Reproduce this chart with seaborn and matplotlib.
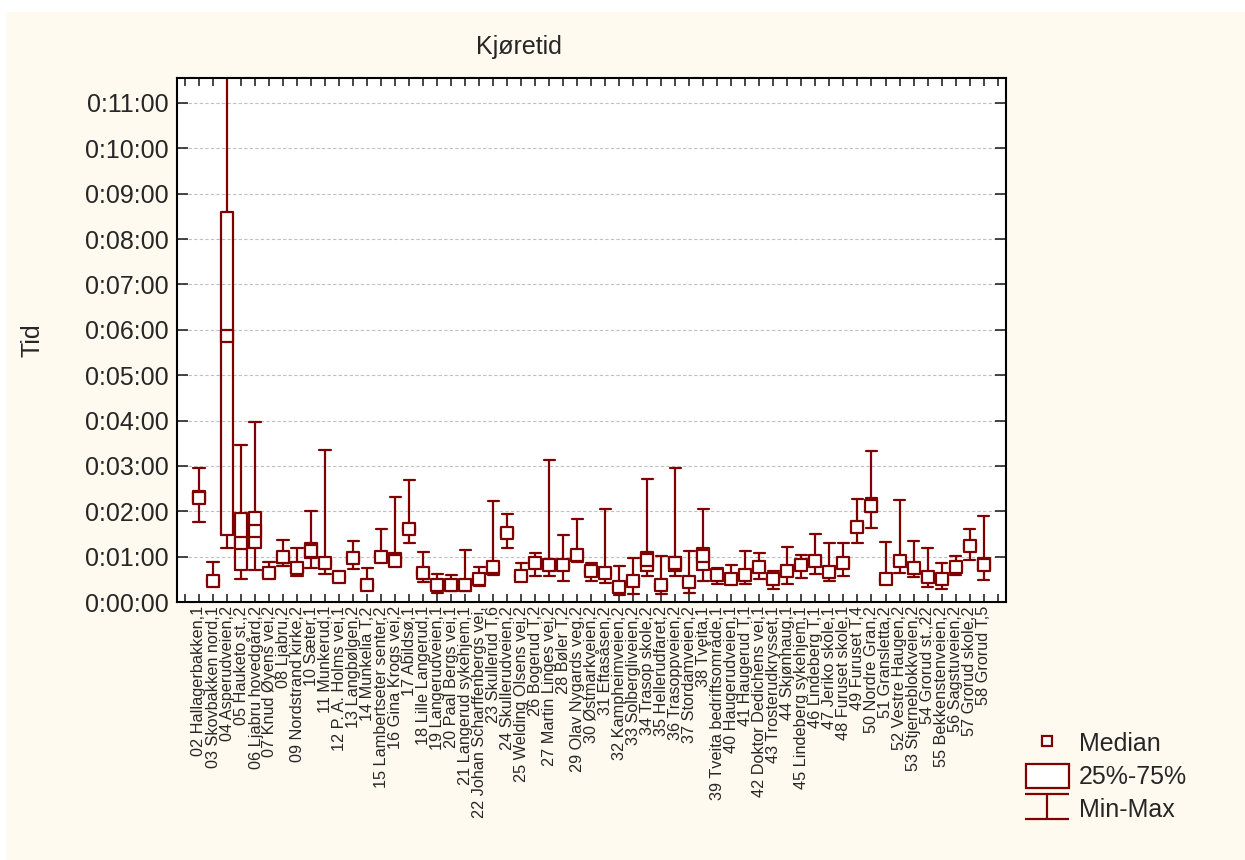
import numpy as np
import pandas as pd
import seaborn as sns
import matplotlib.pyplot as plt
from matplotlib.lines import Line2D
from matplotlib.patches import Patch, Rectangle
from matplotlib.ticker import FuncFormatter, MultipleLocator

# Stops (categories) and box statistics, in minutes
stops = [
    "02 Hallagerbakken,1", "03 Skovbakken nord,1", "04 Asperudveien,2", "05 Hauketo st.,2",
    "06 Ljabru hovedgård,2", "07 Knud Øyens vei,2", "08 Ljabru,2", "09 Nordstrand kirke,2",
    "10 Sæter,1", "11 Munkerud,1", "12 P. A. Holms vei,1", "13 Langbølgen,2",
    "14 Munkelia T,2", "15 Lambertseter senter,2", "16 Gina Krogs vei,2", "17 Abildsø,1",
    "18 Lille Langerud,1", "19 Langerudveien,1", "20 Paal Bergs vei,1", "21 Langerud sykehjem,1",
    "22 Johan Scharffenbergs vei,", "23 Skullerud T,6", "24 Skullerudveien,2", "25 Welding Olsens vei,2",
    "26 Bogerud T,2", "27 Martin Linges vei,2", "28 Bøler T,2", "29 Olav Nygards veg,2",
    "30 Østmarkveien,2", "31 Eftasåsen,2", "32 Kampheimveien,2", "33 Solbergliveien,2",
    "34 Trasop skole,2", "35 Hellerudfaret,2", "36 Trasoppveien,2", "37 Stordamveien,2",
    "38 Tveita,1", "39 Tveita bedriftsområde,1", "40 Haugerudveien,1", "41 Haugerud T,1",
    "42 Doktor Dedichens vei,1", "43 Trosterudkrysset,1", "44 Skjønhaug,1", "45 Lindeberg sykehjem,1",
    "46 Lindeberg T,1", "47 Jeriko skole,1", "48 Furuset skole,1", "49 Furuset T,4",
    "50 Nordre Gran,2", "51 Gransletta,2", "52 Vestre Haugen,2", "53 Stjerneblokkveien,2",
    "54 Grorud st.,22", "55 Bekkenstenveien,2", "56 Sagstuveien,2", "57 Grorud skole,2",
    "58 Grorud T,5",
]

t_min = [1.77, 0.42, 1.18, 0.50, 0.71, 0.55, 0.79, 0.57, 0.76, 0.62, 0.50, 0.73,
         0.30, 0.94, 0.79, 1.29, 0.44, 0.20, 0.24, 0.24, 0.35, 0.60, 1.18, 0.50,
         0.57, 0.57, 0.46, 0.88, 0.46, 0.42, 0.15, 0.18, 0.57, 0.17, 0.57, 0.20,
         0.46, 0.40, 0.40, 0.39, 0.51, 0.29, 0.40, 0.54, 0.61, 0.46, 0.57, 1.31,
         1.64, 0.45, 0.65, 0.55, 0.33, 0.29, 0.59, 0.93, 0.48]
t_q1 = [2.20, 0.43, 1.47, 0.71, 1.18, 0.57, 0.85, 0.65, 0.96, 0.80, 0.52, 0.90,
        0.31, 0.96, 0.85, 1.55, 0.60, 0.33, 0.33, 0.33, 0.45, 0.62, 1.45, 0.52,
        0.80, 0.75, 0.75, 0.97, 0.62, 0.57, 0.26, 0.40, 0.68, 0.31, 0.68, 0.37,
        0.70, 0.54, 0.46, 0.53, 0.71, 0.44, 0.62, 0.75, 0.84, 0.60, 0.80, 1.59,
        1.99, 0.46, 0.84, 0.70, 0.45, 0.44, 0.72, 1.17, 0.70]
t_median = [2.30, 0.47, 5.86, 1.30, 1.56, 0.63, 1.00, 0.76, 1.12, 0.86, 0.55, 0.96,
            0.37, 1.00, 0.90, 1.62, 0.65, 0.38, 0.38, 0.37, 0.50, 0.77, 1.52, 0.57,
            0.86, 0.81, 0.82, 1.03, 0.68, 0.63, 0.32, 0.46, 0.92, 0.37, 0.85, 0.43,
            1.01, 0.60, 0.51, 0.59, 0.77, 0.50, 0.68, 0.81, 0.90, 0.66, 0.86, 1.65,
            2.12, 0.50, 0.90, 0.76, 0.55, 0.50, 0.77, 1.23, 0.82]
t_q3 = [2.45, 0.50, 8.60, 1.96, 1.99, 0.68, 1.05, 0.80, 1.31, 0.92, 0.58, 1.02,
        0.42, 1.05, 1.07, 1.68, 0.70, 0.43, 0.43, 0.42, 0.55, 0.82, 1.60, 0.62,
        0.92, 0.87, 0.90, 1.10, 0.73, 0.68, 0.37, 0.52, 1.10, 0.42, 0.99, 0.48,
        1.20, 0.66, 0.56, 0.64, 0.82, 0.56, 0.74, 0.87, 0.96, 0.72, 0.92, 1.71,
        2.30, 0.55, 0.96, 0.82, 0.62, 0.56, 0.82, 1.30, 0.98]
t_max = [2.95, 0.88, 12.50, 3.46, 3.97, 0.88, 1.375, 1.20, 2.01, 3.34, 0.60, 1.35,
         0.75, 1.62, 2.32, 2.68, 1.10, 0.62, 0.60, 1.15, 0.77, 2.23, 1.94, 0.86,
         1.08, 3.14, 1.47, 1.84, 0.85, 2.04, 0.79, 0.98, 2.71, 1.01, 2.96, 1.13,
         2.04, 0.76, 0.81, 1.12, 1.09, 0.68, 1.21, 1.04, 1.49, 1.30, 1.31, 2.28,
         3.32, 1.32, 2.24, 1.35, 1.18, 0.86, 1.01, 1.62, 1.89]

# five points per stop -> boxplot quartiles/extremes reproduce the summary exactly
rows = []
for s, a, b, c, d, e in zip(stops, t_min, t_q1, t_median, t_q3, t_max):
    for v in (a, b, c, d, e):
        rows.append((s, v))
df = pd.DataFrame(rows, columns=["stop", "tid"])
med_df = pd.DataFrame({"stop": stops, "tid": t_median})

RED = "#800000"
CREAM = "#FFFAF0"

sns.set_style("ticks")
plt.rcParams["font.family"] = ["Liberation Sans", "DejaVu Sans"]

fig = plt.figure(figsize=(12.45, 8.6), dpi=100, facecolor="white")
fig.add_artist(Rectangle((6 / 1245, 0), 1, 1 - 12 / 860, transform=fig.transFigure,
                         facecolor=CREAM, edgecolor="none", zorder=-10))
ax = fig.add_axes([177 / 1245, 1 - 602 / 860, (1006 - 177) / 1245, (602 - 78) / 860])
ax.set_facecolor("white")

sns.boxplot(data=df, x="stop", y="tid", order=stops, ax=ax, whis=(0, 100),
            fill=False, width=0.85, color=RED, linecolor=RED, linewidth=1.6,
            medianprops={"visible": False}, capwidths=0.8)
sns.stripplot(data=med_df, x="stop", y="tid", order=stops, ax=ax, jitter=False,
              marker="s", size=8, color="white", edgecolor=RED, linewidth=1.6, zorder=5)

ax.set_xlim(-1.57, 57.6)
ax.set_ylim(0, 11.55)
ax.set_xticks(range(-1, 58))
ax.set_xticklabels([""] + stops + [""], rotation=90, fontsize=11.7)
ax.yaxis.set_major_locator(MultipleLocator(1))
ax.yaxis.set_major_formatter(FuncFormatter(lambda v, p: f"0:{int(round(v)):02d}:00"))
ax.tick_params(axis="y", labelsize=18, direction="in", length=8, width=1.2, right=True, pad=6)
ax.tick_params(axis="x", direction="in", length=6, width=1.2, top=True, pad=3)
ax.yaxis.grid(True, linestyle=(0, (3, 2)), color="#c0c0c0", linewidth=0.8)
ax.set_axisbelow(True)
for sp in ax.spines.values():
    sp.set_visible(True)
    sp.set_linewidth(1.5)
    sp.set_color("black")
ax.set_xlabel("")
ax.set_ylabel("")

fig.text(519 / 1245, 1 - 47 / 860, "Kjøretid", ha="center", va="center", fontsize=18)
fig.text(33 / 1245, 1 - 340 / 860, "Tid", ha="center", va="center", fontsize=18, rotation=90)

# legend
eb = ax.errorbar([0], [np.nan], yerr=[[np.nan], [np.nan]], fmt="none",
                 ecolor=RED, elinewidth=1.6, capsize=15.5, capthick=1.6)
handles = [
    Line2D([], [], marker="s", linestyle="none", markersize=7, markerfacecolor="white",
           markeredgecolor=RED, markeredgewidth=1.6),
    Patch(facecolor="white", edgecolor=RED, linewidth=1.6),
    eb,
]
fig.legend(handles, ["Median", "25%-75%", "Min-Max"], loc="upper left",
           bbox_to_anchor=(1013 / 1245, 1 - 718 / 860), frameon=False, fontsize=18,
           borderpad=0, handlelength=1.75, handleheight=1.1, labelspacing=0.3,
           handletextpad=0.4)

fig.savefig("out.png", dpi=100, facecolor=fig.get_facecolor())
